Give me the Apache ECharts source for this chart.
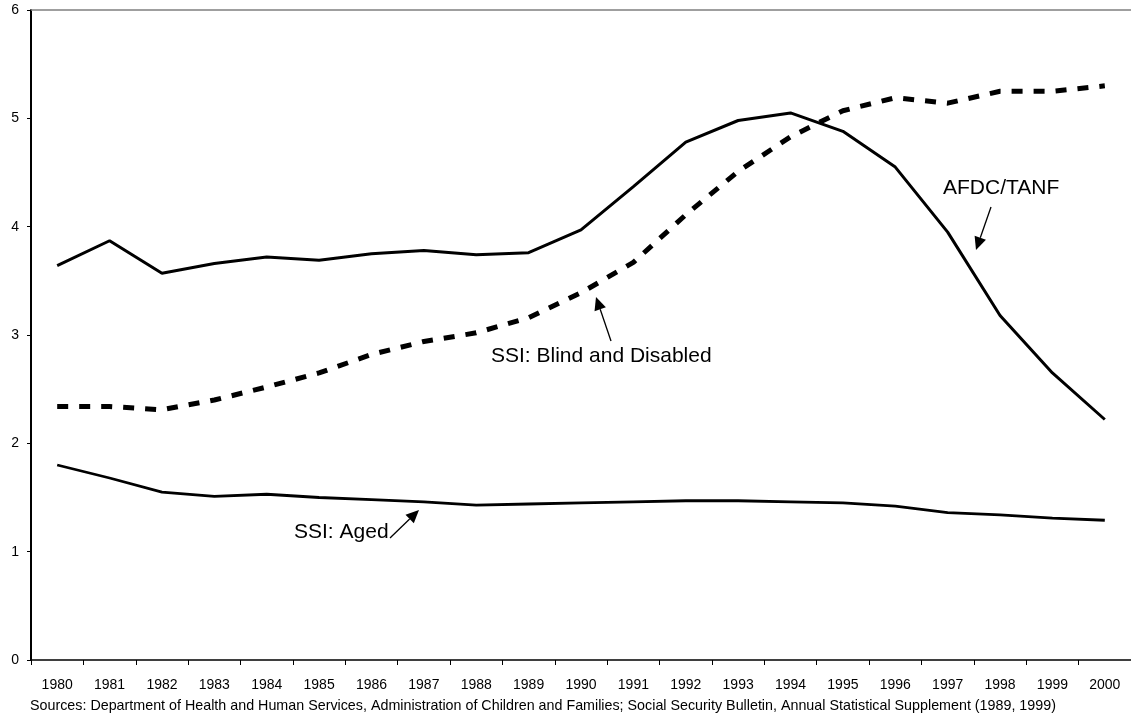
<!DOCTYPE html>
<html>
<head>
<meta charset="utf-8">
<script src="https://cdn.jsdelivr.net/npm/echarts@6/dist/echarts.min.js"></script>
<style>
  html, body { margin: 0; padding: 0; background: #fff; }
  #chart { width: 1131px; height: 720px; }
</style>
</head>
<body>
<div id="chart"></div>
<script>
// Caseloads by program, 1980-2000 (millions)
const years = ['1980', '1981', '1982', '1983', '1984', '1985', '1986', '1987', '1988', '1989', '1990',
  '1991', '1992', '1993', '1994', '1995', '1996', '1997', '1998', '1999', '2000']

const afdcTanf = [3.64, 3.87, 3.57, 3.66, 3.72, 3.69, 3.75, 3.78, 3.74, 3.76, 3.97,
  4.37, 4.78, 4.98, 5.05, 4.88, 4.55, 3.95, 3.18, 2.65, 2.22]

const ssiBlindDisabled = [2.34, 2.34, 2.31, 2.40, 2.52, 2.65, 2.82, 2.94, 3.02, 3.16, 3.39,
  3.67, 4.11, 4.51, 4.83, 5.07, 5.19, 5.14, 5.25, 5.25, 5.30]

const ssiAged = [1.80, 1.68, 1.55, 1.51, 1.53, 1.50, 1.48, 1.46, 1.43, 1.44, 1.45,
  1.46, 1.47, 1.47, 1.46, 1.45, 1.42, 1.36, 1.34, 1.31, 1.29]

const yTicks = [0, 1, 2, 3, 4, 5, 6]

const SOURCE = 'Sources: Department of Health and Human Services, Administration of Children and Families; Social Security Bulletin, Annual Statistical Supplement (1989, 1999)'
const FONT = '"Liberation Sans", Arial, Helvetica, sans-serif'
const INK = '#000'

// arrow = line + filled head at the (x2, y2) end
function arrow(x1, y1, x2, y2, len = 13, half = 6) {
  const dx = x2 - x1, dy = y2 - y1
  const d = Math.hypot(dx, dy)
  const ux = dx / d, uy = dy / d
  const bx = x2 - ux * len, by = y2 - uy * len
  return [
    { type: 'line', shape: { x1, y1, x2: bx, y2: by }, style: { stroke: INK, lineWidth: 1.3 } },
    {
      type: 'polygon',
      shape: { points: [[x2, y2], [bx - uy * half, by + ux * half], [bx + uy * half, by - ux * half]] },
      style: { fill: INK }
    }
  ]
}

function label(text, x, y) {
  return { type: 'text', x, y, style: { text, font: '21px ' + FONT, fill: INK, textVerticalAlign: 'middle' } }
}

const chart = echarts.init(document.getElementById('chart'), null, { renderer: 'canvas' })

chart.setOption({
  animation: false,
  backgroundColor: '#fff',
  textStyle: { fontFamily: FONT, color: INK },
  grid: { left: 31, top: 10, width: 1101, height: 650 },
  xAxis: [
    {
      type: 'category',
      data: years,
      boundaryGap: true,
      axisLine: { lineStyle: { color: INK, width: 1.5 } },
      axisTick: { show: true, interval: 0, length: 5, lineStyle: { color: INK, width: 1 } },
      axisLabel: { interval: 0, color: INK, fontSize: 14, fontFamily: FONT, margin: 18 },
      splitLine: { show: false }
    },
    {
      // top frame line
      type: 'category',
      data: years,
      position: 'top',
      axisLine: { lineStyle: { color: '#808080', width: 1.5 } },
      axisTick: { show: false },
      axisLabel: { show: false }
    }
  ],
  yAxis: {
    type: 'value',
    min: yTicks[0],
    max: yTicks[yTicks.length - 1],
    interval: 1,
    axisLine: { show: true, lineStyle: { color: INK, width: 2 } },
    axisTick: { show: true, length: 4, lineStyle: { color: INK, width: 1 } },
    axisLabel: { color: INK, fontSize: 14, fontFamily: FONT, margin: 12 },
    splitLine: { show: false }
  },
  series: [
    {
      name: 'AFDC/TANF',
      type: 'line',
      data: afdcTanf,
      symbol: 'none',
      lineStyle: { color: INK, width: 3 },
      z: 3
    },
    {
      name: 'SSI: Blind and Disabled',
      type: 'line',
      data: ssiBlindDisabled,
      symbol: 'none',
      lineStyle: { color: INK, width: 5, type: [11, 11], cap: 'butt' },
      z: 2
    },
    {
      name: 'SSI: Aged',
      type: 'line',
      data: ssiAged,
      symbol: 'none',
      lineStyle: { color: INK, width: 2.8 },
      z: 3
    }
  ],
  graphic: [
    label('AFDC/TANF', 943, 188),
    ...arrow(991, 207, 976, 250),
    label('SSI: Blind and Disabled', 491, 356),
    ...arrow(611, 341, 596, 297),
    label('SSI: Aged', 294, 532),
    ...arrow(390, 538, 419, 510),
    {
      type: 'text',
      left: 30,
      top: 699,
      style: { text: SOURCE, font: '14.3px ' + FONT, fill: INK }
    }
  ]
})
</script>
</body>
</html>
